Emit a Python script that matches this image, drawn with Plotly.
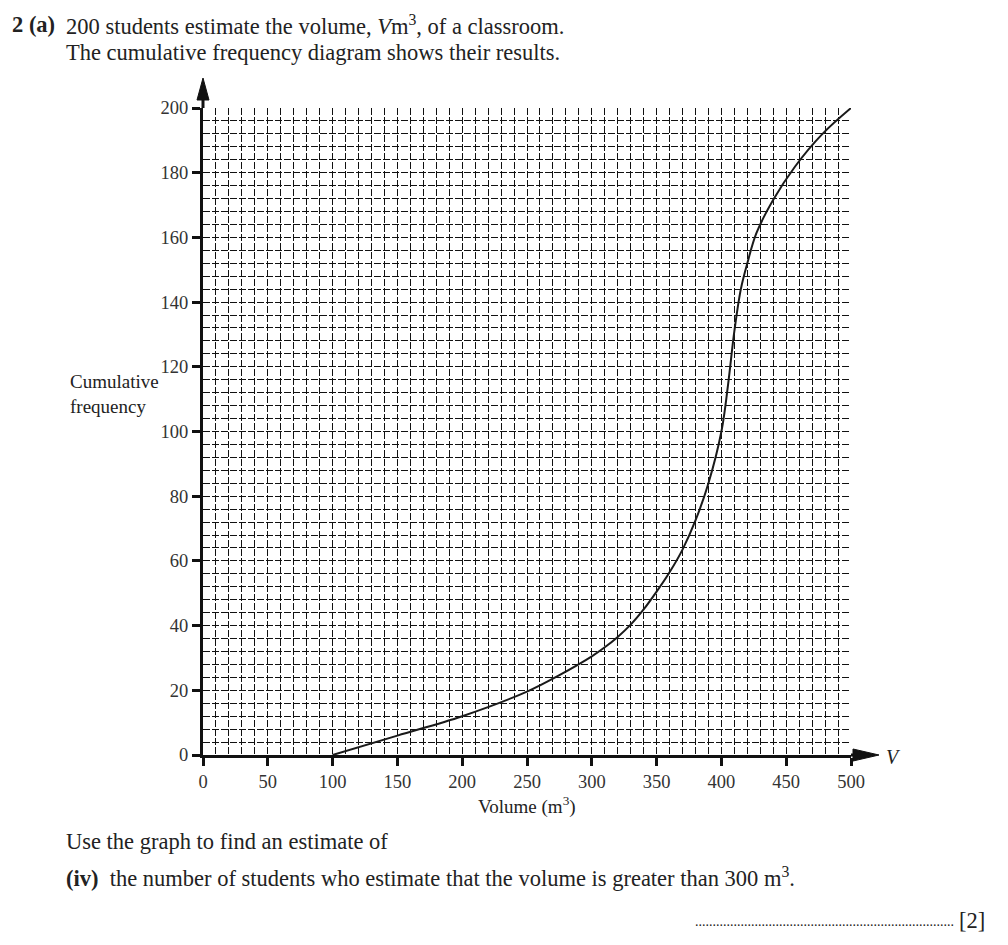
import plotly.graph_objects as go

# Data
volume = [100, 150, 200, 250, 275, 300, 310, 320, 330, 340, 350, 360, 370, 380, 390, 400, 405, 410, 415, 420, 427, 440, 457, 478, 500]
cum_freq = [0, 6, 12, 19.6, 24.7, 30.5, 33.3, 36.5, 40.3, 45, 50.5, 56.5, 63.5, 72.5, 84, 100, 114, 131, 144, 152, 161.3, 171.6, 182, 192, 200]

x_ticks = [0, 50, 100, 150, 200, 250, 300, 350, 400, 450, 500]
y_ticks = [0, 20, 40, 60, 80, 100, 120, 140, 160, 180, 200]

W, H = 1008, 945
L, R, T, B = 203, 851, 108, 755
FONT = "Liberation Serif, Times New Roman, serif"
INK = "#222222"


def P(px, py):
    return (px - L) / (R - L), (B - py) / (B - T)


fig = go.Figure()
fig.add_trace(go.Scatter(
    x=volume, y=cum_freq, mode="lines",
    line=dict(color="#1a1a1a", width=2, shape="spline", smoothing=1.0),
    hoverinfo="skip", showlegend=False,
))

GRID = dict(showgrid=True, gridcolor="#111111", gridwidth=1, griddash="7px,2px")

fig.update_xaxes(
    range=[0, 500], tickvals=x_ticks, ticktext=[str(v) for v in x_ticks],
    ticks="outside", ticklen=8, tickwidth=2.5, tickcolor="#111111",
    showline=True, linecolor="#111111", linewidth=3,
    minor=dict(dtick=10, tick0=0, ticks="", **GRID),
    tickfont=dict(family=FONT, size=18.5, color="#333333"),
    zeroline=False, fixedrange=True, **GRID,
)
fig.update_yaxes(
    range=[0, 200], tickvals=y_ticks, ticktext=[str(v) for v in y_ticks],
    ticks="outside", ticklen=8, tickwidth=2.5, tickcolor="#111111",
    showline=True, linecolor="#111111", linewidth=3,
    minor=dict(dtick=4, tick0=0, ticks="", **GRID),
    tickfont=dict(family=FONT, size=18.5, color="#333333"),
    zeroline=False, fixedrange=True, **GRID,
)

shapes = []
# y-axis extension and arrow
x0, y0 = P(L, T)
x1, y1 = P(L, 96)
shapes.append(dict(type="line", xref="paper", yref="paper", x0=x0, y0=y0, x1=x1, y1=y1,
                   line=dict(color="#111111", width=3)))
ax, ay = P(L, 78)
bl, bb = P(L - 6, 100)
br, _ = P(L + 6, 100)
shapes.append(dict(type="path", xref="paper", yref="paper",
                   path=f"M {bl} {bb} L {ax} {ay} L {br} {bb} Z",
                   fillcolor="#111111", line=dict(color="#111111", width=1)))
# x-axis extension and arrow
x0, y0 = P(R, B)
x1, y1 = P(856, B)
shapes.append(dict(type="line", xref="paper", yref="paper", x0=x0, y0=y0, x1=x1, y1=y1,
                   line=dict(color="#111111", width=3)))
tx, ty = P(879, B)
bx, bt = P(853, B - 6)
_, bbt = P(853, B + 6)
shapes.append(dict(type="path", xref="paper", yref="paper",
                   path=f"M {bx} {bt} L {tx} {ty} L {bx} {bbt} Z",
                   fillcolor="#111111", line=dict(color="#111111", width=1)))

annotations = []


def text(px, py, s, size=20, xanchor="left", yanchor="middle", color=INK):
    x, y = P(px, py)
    annotations.append(dict(x=x, y=y, xref="paper", yref="paper", text=s, showarrow=False,
                            xanchor=xanchor, yanchor=yanchor, align="left",
                            font=dict(family=FONT, size=size, color=color)))


text(10, 25, "<b>2 (a)</b>", size=22.5)
text(64, 25, "200 students estimate the volume, <i>V</i>m<sup>3</sup>, of a classroom.", size=22.5)
text(64, 52, "The cumulative frequency diagram shows their results.", size=22.5)
text(68, 394, "Cumulative<br>frequency", size=19)
text(527, 805, "Volume (m<sup>3</sup>)", size=19, xanchor="center")
text(884, 757, "<i>V</i>", size=20)
text(64, 841, "Use the graph to find an estimate of", size=22.5)
text(64, 877, "<b>(iv)</b>  the number of students who estimate that the volume is greater than 300 m<sup>3</sup>.", size=22.5)
text(956, 931, "." * 74, size=14, xanchor="right", yanchor="bottom")
text(957, 920, "[2]", size=22.5)

fig.update_layout(
    width=W, height=H, autosize=False,
    margin=dict(l=L, r=W - R, t=T, b=H - B, pad=0),
    plot_bgcolor="white", paper_bgcolor="white",
    shapes=shapes, annotations=annotations, showlegend=False,
)

fig.write_html("out.html")
